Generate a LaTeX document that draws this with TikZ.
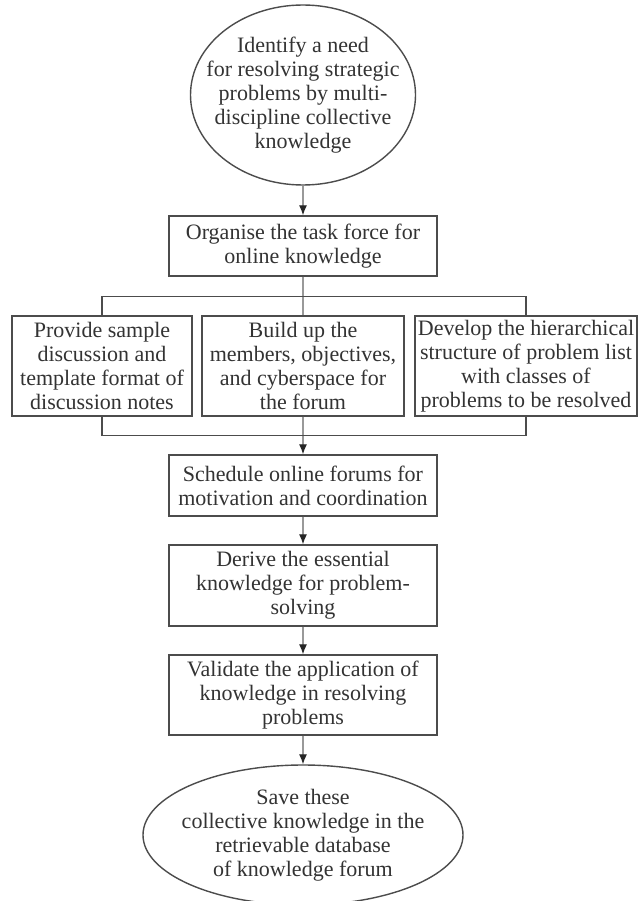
\documentclass[tikz,border=0pt]{standalone}
\usepackage{fontspec}
\setmainfont{Liberation Serif}
\usetikzlibrary{shapes.geometric,arrows.meta}
\begin{document}
\begin{tikzpicture}[x=1pt,y=-1pt,
  txt/.style={font=\fontsize{22}{24}\selectfont, text=black!80, align=center},
  boxnode/.style={txt, draw=black!70, line width=1.4pt, rectangle, inner sep=0pt},
  ellnode/.style={draw=black!70, line width=1.4pt, ellipse, inner sep=0pt},
  conn/.style={draw=black!40, line width=1.2pt},
  brk/.style={draw=black!70, line width=1.5pt},
  arr/.style={conn, -{Latex[length=10pt,width=8pt,color=black!85]}}
]
\useasboundingbox (0,0) rectangle (638,901);
\fill[white] (0,0) rectangle (638,901);

\node[ellnode, minimum width=225pt, minimum height=180pt,
  label={[txt]center:Identify a need\\for resolving strategic\\problems by multi-\\discipline collective\\knowledge}] (need) at (303,95) {};

\node[boxnode, minimum width=268pt, minimum height=60pt] (org) at (303,246)
  {Organise the task force for\\online knowledge};

\node[boxnode, minimum width=180pt, minimum height=100pt] (b1) at (102,366)
  {Provide sample\\discussion and\\template format of\\discussion notes};
\node[boxnode, minimum width=202pt, minimum height=100pt] (b2) at (303,366)
  {Build up the\\members, objectives,\\and cyberspace for\\the forum};
\node[boxnode, minimum width=222pt, minimum height=100pt] (b3) at (526,366)
  {Develop the hierarchical\\structure of problem list\\with classes of\\problems to be resolved};

\node[boxnode, minimum width=268pt, minimum height=61pt] (sched) at (303,485.5)
  {Schedule online forums for\\motivation and coordination};
\node[boxnode, minimum width=268pt, minimum height=81pt] (derive) at (303,585.5)
  {Derive the essential\\knowledge for problem-\\solving};
\node[boxnode, minimum width=268pt, minimum height=80pt] (valid) at (303,695)
  {Validate the application of\\knowledge in resolving\\problems};

\node[ellnode, minimum width=320pt, minimum height=140pt,
  label={[txt]center:Save these\\collective knowledge in the\\retrievable database\\of knowledge forum}] (save) at (303,835) {};

\draw[arr] (need.south) -- (org.north);
\draw[conn] (org.south) -- (b2.north);
\draw[brk] (b1.north) -- ++(0,-19) -| (b3.north);
\draw[arr] (b2.south) -- (sched.north);
\draw[brk] (b1.south) -- ++(0,19) -| (b3.south);
\draw[arr] (sched.south) -- (derive.north);
\draw[arr] (derive.south) -- (valid.north);
\draw[arr] (valid.south) -- (save.north);
\end{tikzpicture}
\end{document}
